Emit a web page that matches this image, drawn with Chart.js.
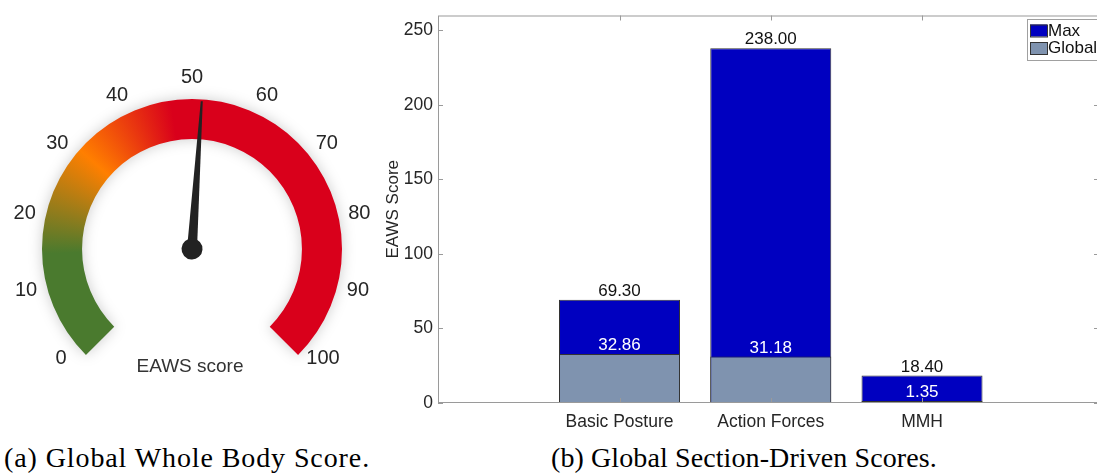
<!DOCTYPE html>
<html lang="en">
<head>
  <meta charset="UTF-8" />
  <title>EAWS Scores</title>
  <script src="https://cdn.jsdelivr.net/npm/chart.js"></script>
  <style>
    html, body { margin: 0; padding: 0; background: #fff; overflow: hidden; }
    body { width: 1097px; height: 474px; position: relative; font-family: "Liberation Sans", Arial, sans-serif; }
    #gaugeWrap { position: absolute; left: 0; top: 0; width: 385px; height: 440px; }
    #barWrap { position: absolute; left: 370px; top: 0; width: 729px; height: 440px; }
    .caption {
      position: absolute; top: 444px; line-height: 28px;
      font-family: "Liberation Serif", "Times New Roman", serif; font-size: 28px;
      letter-spacing: 0.9px; color: #000; white-space: nowrap;
    }
  </style>
</head>
<body>
  <div id="gaugeWrap"><canvas id="gauge"></canvas></div>
  <div id="barWrap"><canvas id="bars"></canvas></div>
  <div class="caption" style="left:4px">(a) Global Whole Body Score.</div>
  <div class="caption" style="left:551px; letter-spacing:0.1px">(b) Global Section-Driven Scores.</div>

  <script>
    // (a) gauge
    const gaugeMin = 0;
    const gaugeMax = 100;
    const gaugeValue = 51.4;
    const gaugeTicks = [0, 10, 20, 30, 40, 50, 60, 70, 80, 90, 100];
    const gaugeStops = [0, 16, 32, 47, 100];
    const gaugeColors = ["#4a7a2e", "#4a7a2e", "#ff7f00", "#d9001b", "#d9001b"];

    // (b) section scores
    const categories = ["Basic Posture", "Action Forces", "MMH"];
    const categoryPos = [1, 2, 3];
    const maxScores = [69.30, 238.00, 18.40];
    const globalScores = [32.86, 31.18, 1.35];
    const yTicks = [0, 50, 100, 150, 200, 250];

    const sans = "'Liberation Sans', Arial, sans-serif";

    // ---------- gauge ----------
    const ROT = -135, CIRC = 270;

    function gaugeAngle(v) {
      return (ROT - 90 + (v - gaugeMin) / (gaugeMax - gaugeMin) * CIRC) * Math.PI / 180;
    }

    function ringFill(c) {
      const chart = c.chart;
      const area = chart.chartArea;
      if (!area) return gaugeColors[gaugeColors.length - 1];
      const ctrl = chart.getDatasetMeta(0).controller;
      const cx = (area.left + area.right) / 2 + (ctrl.offsetX || 0);
      const cy = (area.top + area.bottom) / 2 + (ctrl.offsetY || 0);
      const g = chart.ctx.createConicGradient(gaugeAngle(gaugeMin), cx, cy);
      gaugeStops.forEach((s, i) => {
        g.addColorStop((s - gaugeMin) / (gaugeMax - gaugeMin) * CIRC / 360, gaugeColors[i]);
      });
      g.addColorStop(1, gaugeColors[0]);
      return g;
    }

    const ringShadow = {
      id: "ringShadow",
      beforeDatasetDraw(chart) {
        const ctx = chart.ctx;
        ctx.save();
        ctx.shadowColor = "rgba(0,0,0,0.2)";
        ctx.shadowBlur = 14;
      },
      afterDatasetDraw(chart) {
        chart.ctx.restore();
      }
    };

    const gaugeDecor = {
      id: "gaugeDecor",
      afterDraw(chart) {
        const arc = chart.getDatasetMeta(0).data[0];
        if (!arc) return;
        const ctx = chart.ctx;
        const cx = arc.x, cy = arc.y, R = arc.outerRadius;
        ctx.save();
        ctx.fillStyle = "#262626";
        ctx.font = "20px " + sans;
        ctx.textAlign = "center";
        ctx.textBaseline = "middle";
        // labels sit a little inside the ends of the arc
        const labelR = R + 21;
        gaugeTicks.forEach(t => {
          const a = (-130 + (t - gaugeMin) / (gaugeMax - gaugeMin) * 260 - 90) * Math.PI / 180;
          ctx.fillText(String(t), cx + labelR * Math.cos(a), cy + labelR * Math.sin(a));
        });
        ctx.font = "19px " + sans;
        ctx.fillStyle = "#333";
        ctx.fillText("EAWS score", cx - 2, cy + 118);

        // needle
        ctx.translate(cx, cy);
        ctx.rotate(gaugeAngle(gaugeValue));
        ctx.fillStyle = "#222";
        ctx.beginPath();
        ctx.moveTo(0, -5);
        ctx.lineTo(R - 2, -1);
        ctx.lineTo(R - 2, 1);
        ctx.lineTo(0, 5);
        ctx.closePath();
        ctx.fill();
        ctx.beginPath();
        ctx.arc(0, 0, 10.5, 0, Math.PI * 2);
        ctx.fill();
        ctx.restore();
      }
    };

    new Chart(document.getElementById("gauge"), {
      type: "doughnut",
      data: {
        labels: ["EAWS"],
        datasets: [{
          data: [gaugeMax - gaugeMin],
          backgroundColor: ringFill,
          borderWidth: 0
        }]
      },
      options: {
        responsive: true,
        maintainAspectRatio: false,
        animation: false,
        rotation: ROT,
        circumference: CIRC,
        cutout: "73.3%",
        radius: 150,
        layout: { padding: { left: 42, right: 43, top: 99, bottom: 85 } },
        plugins: { legend: { display: false }, tooltip: { enabled: false } }
      },
      plugins: [ringShadow, gaugeDecor]
    });

    // ---------- bar chart ----------
    const axisGray = "#9a9a9a";
    const textDark = "#262626";

    const boxTicks = {
      id: "boxTicks",
      afterDraw(chart) {
        const { ctx, chartArea: a, scales: { x, y } } = chart;
        const len = 5;
        ctx.save();
        ctx.strokeStyle = axisGray;
        ctx.lineWidth = 1;
        ctx.strokeRect(a.left + 0.5, a.top + 0.5, a.right - a.left - 1, a.bottom - a.top - 1);
        ctx.beginPath();
        x.ticks.forEach(t => {
          const px = Math.round(x.getPixelForValue(t.value)) + 0.5;
          ctx.moveTo(px, a.bottom); ctx.lineTo(px, a.bottom - len);
          ctx.moveTo(px, a.top); ctx.lineTo(px, a.top + len);
        });
        y.ticks.forEach(t => {
          const py = Math.round(y.getPixelForValue(t.value)) + 0.5;
          ctx.moveTo(a.left, py); ctx.lineTo(a.left + len, py);
          ctx.moveTo(a.right, py); ctx.lineTo(a.right - len, py);
        });
        ctx.stroke();

        // legend box in the top right corner
        const lx = a.right - 72, ly = a.top + 3.5;
        ctx.fillStyle = "#fff";
        ctx.fillRect(lx, ly, 80, 41);
        ctx.strokeStyle = "#a0a0a0";
        ctx.strokeRect(lx + 0.5, ly + 0.5, 80, 41);
        ctx.font = "17px " + sans;
        ctx.textBaseline = "middle";
        ctx.textAlign = "left";
        chart.data.datasets.forEach((ds, i) => {
          const sy = ly + 5.5 + i * 17.5;
          ctx.fillStyle = ds.backgroundColor;
          ctx.fillRect(lx + 3, sy, 17, 12);
          ctx.strokeStyle = "#333";
          ctx.strokeRect(lx + 3.5, sy + 0.5, 17, 12);
          ctx.fillStyle = "#111";
          ctx.fillText(ds.label, lx + 21, sy + 6.5);
        });
        ctx.restore();
      }
    };

    const barValues = {
      id: "barValues",
      afterDatasetsDraw(chart) {
        const ctx = chart.ctx;
        ctx.save();
        ctx.font = "17px " + sans;
        ctx.textAlign = "center";
        ctx.textBaseline = "alphabetic";
        chart.data.datasets.forEach((ds, i) => {
          chart.getDatasetMeta(i).data.forEach((bar, j) => {
            ctx.fillStyle = ds.labelColor;
            ctx.fillText(ds.values[j].toFixed(2), bar.x, bar.y - 4);
          });
        });
        ctx.restore();
      }
    };

    new Chart(document.getElementById("bars"), {
      type: "bar",
      data: {
        datasets: [
          {
            label: "Max",
            values: maxScores,
            data: categoryPos.map((p, i) => ({ x: p, y: maxScores[i] })),
            backgroundColor: "#0000c0",
            labelColor: "#111",
            order: 2
          },
          {
            label: "Global",
            values: globalScores,
            data: categoryPos.map((p, i) => ({ x: p, y: globalScores[i] })),
            backgroundColor: "#7f93af",
            labelColor: "#ffffff",
            order: 1
          }
        ]
      },
      options: {
        responsive: true,
        maintainAspectRatio: false,
        animation: false,
        grouped: false,
        barPercentage: 0.8,
        categoryPercentage: 1,
        borderColor: "#333",
        borderWidth: 1,
        borderSkipped: false,
        layout: { padding: { top: 9, left: 0, right: 0, bottom: 0 } },
        scales: {
          x: {
            type: "linear",
            offset: false,
            bounds: "data",
            min: -0.2,
            max: 4.17,
            afterBuildTicks: s => { s.ticks = categoryPos.map(v => ({ value: v })); },
            afterFit: s => { s.height = 37; },
            grid: { display: false, drawTicks: false },
            border: { display: false },
            ticks: {
              autoSkip: false,
              maxRotation: 0,
              padding: 9,
              color: textDark,
              font: { family: sans, size: 17.5 },
              callback: v => categories[categoryPos.indexOf(v)] || ""
            }
          },
          y: {
            min: 0,
            max: 260,
            afterBuildTicks: s => { s.ticks = yTicks.map(v => ({ value: v })); },
            afterFit: s => { s.width = 68; },
            grid: { display: false, drawTicks: false },
            border: { display: false },
            ticks: { padding: 5, color: textDark, font: { family: sans, size: 17.5 } },
            title: {
              display: true,
              text: "EAWS Score",
              color: textDark,
              font: { family: sans, size: 17 },
              padding: { top: 13, bottom: 0 }
            }
          }
        },
        plugins: { legend: { display: false }, tooltip: { enabled: false } }
      },
      plugins: [barValues, boxTicks]
    });
  </script>
</body>
</html>
